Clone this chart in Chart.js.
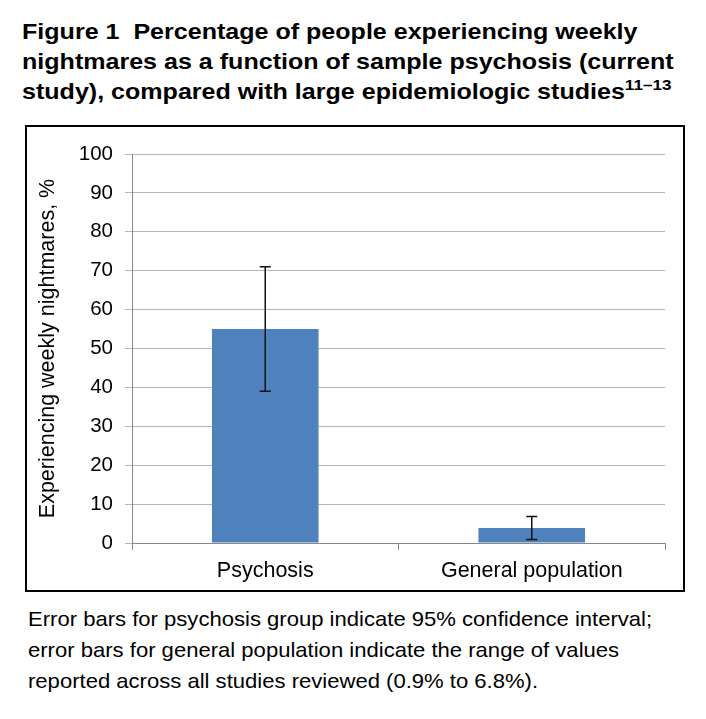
<!DOCTYPE html>
<html>
<head>
<meta charset="utf-8">
<script src="https://cdn.jsdelivr.net/npm/chart.js@4.4.0/dist/chart.umd.min.js"></script>
<style>
  body { margin: 0; background: #fff; font-family: "Liberation Sans", Arial, sans-serif; color: #000; }
  #title { position: absolute; left: 22px; top: 17px; font-weight: bold; font-size: 22px; line-height: 30px; white-space: nowrap; transform-origin: 0 0; }
  #title sup { font-size: 15px; vertical-align: 9px; line-height: 0; }
  #box { position: absolute; left: 25px; top: 125px; width: 656px; height: 463px; border: 2px solid #000; }
  #caption { position: absolute; left: 28px; top: 603px; font-size: 21px; line-height: 31px; white-space: nowrap; transform-origin: 0 0; }
</style>
</head>
<body>
<div id="title">Figure 1&nbsp; Percentage of people experiencing weekly<br>nightmares as a function of sample psychosis (current<br>study), compared with large epidemiologic studies<sup>11–13</sup></div>
<div id="box"><canvas id="chart" width="656" height="463"></canvas></div>
<div id="caption">Error bars for psychosis group indicate 95% confidence interval;<br>error bars for general population indicate the range of values<br>reported across all studies reviewed (0.9% to 6.8%).</div>
<script>
// chart values
const groups = ['Psychosis', 'General population'];
const percentWeekly = [55, 3.85];
const errLow = [39, 0.9];
const errHigh = [71, 6.8];
const yTicks = [0, 10, 20, 30, 40, 50, 60, 70, 80, 90, 100];

// stretch/squeeze a text block so its first line has the width it has in the figure
function fitWidth(el, font, firstLine, width) {
  const probe = document.createElement('span');
  probe.style.cssText = 'font: ' + font + '; white-space: nowrap; position: absolute; visibility: hidden;';
  probe.innerHTML = firstLine;
  document.body.appendChild(probe);
  el.style.transform = 'scaleX(' + (width / probe.offsetWidth) + ')';
  probe.remove();
}
fitWidth(document.getElementById('title'), 'bold 22px "Liberation Sans", Arial, sans-serif',
  'Figure 1&nbsp; Percentage of people experiencing weekly', 615);
fitWidth(document.getElementById('caption'), '21px "Liberation Sans", Arial, sans-serif',
  'Error bars for psychosis group indicate 95% confidence interval;', 624);

const errorBars = {
  id: 'errorBars',
  afterDatasetsDraw(chart) {
    const ctx = chart.ctx;
    const x = chart.scales.x;
    const y = chart.scales.y;
    ctx.save();
    ctx.strokeStyle = '#111';
    ctx.lineWidth = 1.5;
    groups.forEach((g, i) => {
      const cx = x.getPixelForValue(i);
      const top = y.getPixelForValue(errHigh[i]);
      const bot = y.getPixelForValue(errLow[i]);
      ctx.beginPath();
      ctx.moveTo(cx, top); ctx.lineTo(cx, bot);
      ctx.moveTo(cx - 5.5, top); ctx.lineTo(cx + 5.5, top);
      ctx.moveTo(cx - 5.5, bot); ctx.lineTo(cx + 5.5, bot);
      ctx.stroke();
    });
    ctx.restore();
  }
};

Chart.defaults.font.family = '"Liberation Sans", Arial, sans-serif';
Chart.defaults.color = '#000';

new Chart(document.getElementById('chart'), {
  type: 'bar',
  data: {
    labels: groups,
    datasets: [{
      data: percentWeekly,
      backgroundColor: '#4f81bd',
      categoryPercentage: 1,
      barPercentage: 0.4
    }]
  },
  options: {
    responsive: false,
    animation: false,
    layout: { padding: { top: 27, right: 18, left: 0, bottom: 0 } },
    plugins: { legend: { display: false }, tooltip: { enabled: false } },
    scales: {
      x: {
        grid: { drawOnChartArea: false, tickLength: 7, color: '#888' },
        border: { color: '#888' },
        ticks: { font: { size: 21.5 }, padding: 8 },
        afterFit(scale) { scale.height = 47; }
      },
      y: {
        min: 0,
        max: 100,
        afterBuildTicks(scale) { scale.ticks = yTicks.map(v => ({ value: v })); },
        grid: { color: '#b5b5b5', tickLength: 7 },
        border: { color: '#888' },
        ticks: { font: { size: 20.5 }, padding: 12 },
        title: { display: true, text: 'Experiencing weekly nightmares, %', font: { size: 21.5 }, padding: { top: 8, bottom: 0 } },
        afterFit(scale) { scale.width = 105; }
      }
    }
  },
  plugins: [errorBars]
});
</script>
</body>
</html>
